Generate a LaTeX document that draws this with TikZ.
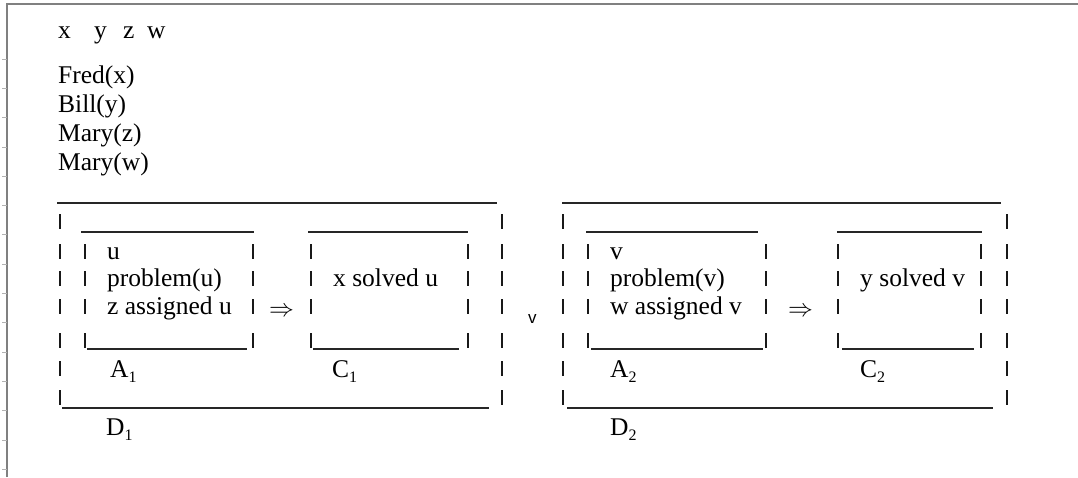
\documentclass[tikz,border=0pt]{standalone}
\usepackage{fontspec}
\setmainfont{Liberation Serif}
\newfontfamily\sansv{Liberation Sans}
\newcommand\subn[1]{\raisebox{-5pt}{\fontsize{16}{16}\selectfont #1}}
\begin{document}
\begin{tikzpicture}[x=1pt,y=-1pt,
  txt/.style={anchor=base west,inner sep=0pt,font=\fontsize{25.5}{25.5}\selectfont},
  bar/.style={line width=1.6pt,draw=black!90},
  rule/.style={line width=1.2pt,draw=black!85},
  frame/.style={line width=2pt,draw=black!50},
  tick/.style={line width=0.8pt,draw=black!30},
  impl/.style={anchor=center,inner sep=0pt,font=\fontsize{25}{25}\selectfont}]
\useasboundingbox (0,0) rectangle (1078,477);
% frame
\draw[frame] (7,477) -- (7,4) -- (1078,4);
\foreach \k in {0,...,14} \draw[tick] (2,{59+29.3*\k}) -- (7,{59+29.3*\k});
% outer bars
\foreach \x in {60,502,563,1007}
  \foreach \r in {229,259,286,314,348,376,405}
    \draw[bar] (\x,{\r-15}) -- (\x,\r);
% inner bars
\foreach \x in {85,253,311,468,588,766,838,981}
  \foreach \r in {259,286,314,348}
    \draw[bar] (\x,{\r-15}) -- (\x,\r);
% underscores
\draw[rule] (57,203) -- (497,203);
\draw[rule] (81,232) -- (254,232);
\draw[rule] (308,232) -- (468,232);
\draw[rule] (87,349) -- (247,349);
\draw[rule] (313,349) -- (459,349);
\draw[rule] (62,408) -- (489,408);
\draw[rule] (562,203) -- (1001,203);
\draw[rule] (586,232) -- (758,232);
\draw[rule] (837,232) -- (982,232);
\draw[rule] (591,349) -- (763,349);
\draw[rule] (842,349) -- (974,349);
\draw[rule] (567,408) -- (993,408);
% texts
\node[txt] (vx) at (58,38) {x};
\node[txt] (vy) at (94,38) {y};
\node[txt] (vz) at (123,38) {z};
\node[txt] (vw) at (147,38) {w};
\node[txt] (fred) at (58,83) {Fred(x)};
\node[txt] (bill) at (58,112) {Bill(y)};
\node[txt] (maryz) at (58,141) {Mary(z)};
\node[txt] (maryw) at (58,170) {Mary(w)};
\node[txt] (a1u) at (107,259) {u};
\node[txt] (a1p) at (107,286) {problem(u)};
\node[txt] (a1z) at (107,314) {z assigned u};
\node[txt] (c1x) at (333,286) {x solved u};
\node[txt] (a1) at (110,377) {A\subn{1}};
\node[txt] (c1) at (332,377) {C\subn{1}};
\node[txt] (d1) at (106,435) {D\subn{1}};
\node[impl] (imp1) at (281.5,311.5) {$\Rightarrow$};
\node[anchor=base west,inner sep=0pt,font=\sansv\fontsize{17}{17}\selectfont] (or) at (528,323) {v};
\node[txt] (a2v) at (610,259) {v};
\node[txt] (a2p) at (610,286) {problem(v)};
\node[txt] (a2w) at (610,314) {w assigned v};
\node[txt] (c2y) at (860,286) {y solved v};
\node[txt] (a2) at (610,377) {A\subn{2}};
\node[txt] (c2) at (860,377) {C\subn{2}};
\node[txt] (d2) at (610,435) {D\subn{2}};
\node[impl] (imp2) at (800.5,311.5) {$\Rightarrow$};
\end{tikzpicture}
\end{document}
